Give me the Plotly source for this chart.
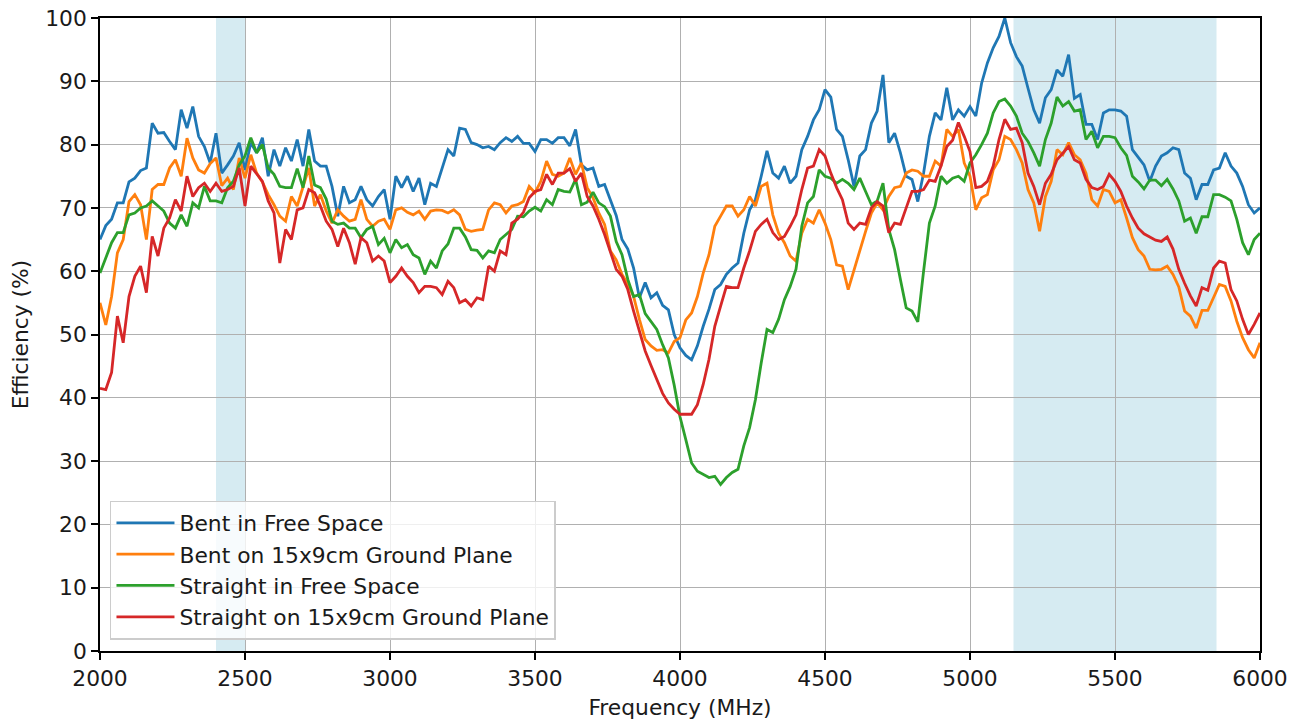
import plotly.graph_objects as go

# Sampling grid (MHz): first frequency and spacing of the readings below
freq_start = 2000
freq_step = 20

# Efficiency (%), one value every 20 MHz from 2000 to 6000 MHz
bent_free = [
    65.0, 67.2, 68.2, 70.8, 70.8, 74.1, 74.7, 75.9, 76.3, 83.4,
    81.8, 81.9, 80.5, 79.2, 85.5, 82.6, 86.0, 81.3, 79.7, 77.1,
    81.8, 75.5, 76.8, 78.2, 80.3, 76.0, 80.3, 78.7, 81.1, 75.0,
    79.2, 76.6, 79.5, 77.4, 80.8, 76.6, 82.4, 77.4, 76.6, 76.6,
    73.4, 68.7, 73.4, 70.8, 71.3, 73.4, 71.3, 70.3, 71.8, 72.9,
    68.2, 75.0, 73.2, 75.0, 72.6, 74.7, 70.5, 73.9, 73.4, 76.3,
    79.2, 78.2, 82.6, 82.4, 80.3, 80.0, 79.5, 79.7, 79.2, 80.3,
    81.1, 80.5, 81.3, 80.2, 80.2, 78.9, 80.8, 80.8, 80.2, 81.1,
    81.1, 79.8, 82.4, 76.8, 76.0, 76.3, 73.4, 73.7, 71.3, 68.8,
    65.0, 63.5, 60.5, 55.8, 58.2, 55.8, 56.6, 54.6, 53.9, 50.0,
    47.9, 46.7, 46.0, 48.2, 51.3, 54.0, 57.1, 57.9, 59.5, 60.5,
    61.3, 66.0, 69.7, 71.3, 75.0, 79.0, 75.5, 74.7, 76.6, 73.9,
    75.0, 79.2, 81.3, 83.9, 85.5, 88.7, 87.5, 82.4, 81.3, 77.6,
    73.4, 78.2, 79.2, 83.4, 85.3, 91.0, 80.3, 81.8, 78.7, 75.0,
    74.5, 71.0, 75.5, 81.3, 85.0, 83.9, 89.0, 83.9, 85.5, 84.5,
    86.0, 84.5, 89.7, 92.9, 95.3, 97.1, 100.0, 96.1, 93.9, 92.4,
    88.9, 85.5, 83.4, 87.4, 88.7, 91.8, 90.8, 94.2, 87.3, 87.9,
    83.2, 83.2, 80.8, 85.0, 85.5, 85.5, 85.3, 84.5, 79.2, 77.9,
    76.8, 74.2, 76.6, 78.2, 78.7, 79.5, 79.2, 75.5, 74.7, 71.3,
    73.7, 73.7, 76.0, 76.3, 78.7, 76.6, 75.5, 73.4, 70.5, 69.2,
    70.0,
]

bent_ground = [
    55.0, 51.5, 56.0, 62.9, 65.0, 71.0, 72.1, 70.5, 65.0, 72.9,
    73.7, 73.7, 76.3, 77.6, 75.0, 81.0, 77.9, 76.0, 75.5, 77.0,
    77.9, 73.5, 74.7, 72.9, 77.9, 74.7, 78.4, 75.5, 74.1, 72.1,
    70.5, 68.7, 67.9, 71.8, 70.3, 73.4, 76.3, 70.3, 72.1, 69.5,
    67.6, 69.7, 68.7, 67.9, 68.2, 71.3, 68.2, 67.1, 67.9, 68.2,
    66.6, 69.7, 70.0, 69.3, 68.9, 69.5, 68.2, 69.5, 69.7, 69.6,
    69.2, 69.7, 68.9, 66.6, 66.3, 66.5, 66.6, 69.7, 70.8, 70.5,
    69.2, 70.3, 70.5, 71.0, 73.4, 72.4, 74.2, 77.4, 75.3, 75.0,
    75.5, 77.9, 75.3, 77.1, 73.2, 71.6, 69.2, 67.4, 63.2, 61.8,
    59.5, 58.0, 56.0, 52.4, 49.2, 48.2, 47.5, 47.6, 47.1, 48.9,
    49.5, 52.3, 53.4, 56.0, 59.7, 62.6, 67.1, 68.7, 70.3, 70.3,
    68.7, 69.7, 71.8, 70.3, 73.4, 73.9, 68.9, 66.0, 64.5, 62.4,
    61.6, 66.0, 68.2, 67.6, 69.7, 67.6, 65.0, 61.0, 60.8, 57.1,
    60.3, 63.4, 66.3, 69.2, 70.8, 69.7, 71.8, 73.2, 73.4, 75.5,
    76.0, 75.8, 75.0, 75.0, 77.4, 76.6, 82.4, 81.3, 82.4, 77.1,
    75.0, 69.7, 71.6, 72.1, 76.0, 77.6, 81.3, 80.8, 79.2, 77.1,
    72.9, 70.8, 66.3, 71.8, 74.2, 79.2, 78.4, 80.3, 78.4, 77.6,
    75.5, 71.3, 70.3, 72.9, 72.6, 70.8, 71.3, 68.4, 65.3, 63.4,
    62.4, 60.3, 60.2, 60.3, 60.8, 59.5, 57.5, 53.7, 52.9, 51.0,
    53.8, 53.8, 56.0, 57.9, 57.6, 55.3, 52.1, 49.5, 47.6, 46.3,
    48.7,
]

straight_free = [
    59.7, 62.1, 64.5, 66.1, 66.1, 68.9, 69.2, 70.0, 70.3, 71.1,
    70.3, 69.5, 67.6, 66.8, 68.9, 67.1, 70.8, 70.0, 73.4, 71.1,
    71.1, 70.8, 73.2, 74.2, 76.8, 78.2, 81.1, 78.7, 80.0, 76.3,
    75.3, 73.4, 73.2, 73.2, 76.2, 73.2, 78.2, 73.6, 73.2, 71.4,
    67.9, 67.4, 67.6, 66.8, 66.8, 65.3, 66.6, 67.1, 64.2, 65.2,
    62.9, 65.0, 63.7, 64.2, 62.6, 62.1, 59.5, 61.6, 60.5, 63.2,
    64.3, 66.8, 66.8, 65.4, 63.4, 63.3, 62.1, 63.2, 62.9, 65.0,
    65.8, 66.6, 68.7, 68.6, 69.5, 70.1, 69.5, 71.3, 70.5, 72.9,
    72.6, 72.5, 74.5, 70.5, 70.9, 72.5, 70.8, 70.2, 68.7, 64.7,
    62.6, 58.7, 56.0, 56.3, 53.3, 52.1, 50.8, 48.4, 46.3, 42.0,
    37.0, 33.4, 29.7, 28.4, 27.9, 27.4, 27.6, 26.3, 27.4, 28.2,
    28.7, 32.4, 35.3, 39.7, 45.5, 50.8, 50.3, 52.4, 55.5, 57.6,
    60.3, 67.1, 70.8, 71.8, 76.0, 75.0, 74.7, 73.9, 74.5, 73.9,
    72.9, 74.7, 72.6, 70.5, 71.1, 73.9, 66.6, 63.4, 58.7, 54.2,
    53.7, 52.0, 60.0, 67.6, 70.3, 75.0, 73.9, 74.7, 75.0, 74.2,
    77.1, 78.4, 80.0, 81.8, 85.0, 86.8, 87.2, 86.1, 84.5, 81.8,
    80.5, 78.7, 76.6, 80.8, 83.4, 87.5, 86.1, 86.8, 85.3, 85.5,
    80.8, 82.1, 79.5, 81.3, 81.3, 81.1, 79.5, 78.3, 75.0, 74.1,
    73.0, 74.4, 74.4, 73.5, 74.5, 73.0, 71.1, 67.9, 68.4, 66.0,
    68.6, 68.6, 72.1, 72.1, 71.7, 71.1, 68.2, 64.5, 62.6, 65.0,
    66.0,
]

straight_ground = [
    41.5, 41.3, 44.0, 52.9, 48.7, 56.0, 59.2, 60.8, 56.6, 65.5,
    62.4, 66.8, 68.4, 71.3, 69.5, 75.0, 71.8, 73.2, 73.9, 72.6,
    73.9, 72.6, 72.9, 73.4, 76.3, 70.3, 76.6, 75.3, 74.2, 71.1,
    69.2, 61.3, 66.6, 65.0, 69.7, 70.0, 72.9, 72.4, 70.3, 67.9,
    66.6, 63.9, 66.8, 64.5, 61.1, 65.3, 64.5, 61.6, 62.4, 61.6,
    58.2, 59.2, 60.5, 59.2, 58.2, 56.6, 57.6, 57.6, 57.4, 56.3,
    58.4, 57.4, 55.0, 55.5, 54.5, 55.8, 55.5, 60.8, 60.0, 63.2,
    62.6, 67.6, 68.2, 69.3, 71.6, 72.6, 72.9, 75.3, 73.7, 75.5,
    75.5, 76.2, 74.2, 75.5, 71.8, 70.3, 68.2, 65.8, 63.2, 60.3,
    59.2, 57.1, 53.7, 50.5, 47.4, 45.1, 42.9, 40.7, 39.2, 38.2,
    37.4, 37.4, 37.4, 38.9, 42.1, 46.1, 51.3, 54.5, 57.6, 57.4,
    57.4, 60.5, 63.2, 66.3, 67.4, 68.2, 66.1, 65.0, 65.5, 67.1,
    68.9, 72.9, 76.3, 76.6, 79.2, 78.2, 75.5, 73.2, 71.3, 67.6,
    66.6, 67.6, 67.4, 70.0, 71.0, 70.3, 66.1, 67.6, 67.4, 70.0,
    72.6, 72.6, 72.9, 74.4, 74.2, 76.6, 79.7, 80.7, 83.5, 81.3,
    78.9, 73.2, 73.4, 74.2, 76.6, 80.8, 84.0, 82.4, 82.6, 80.3,
    75.5, 73.4, 70.5, 73.9, 75.3, 77.6, 78.7, 79.7, 77.6, 77.1,
    74.5, 73.2, 72.9, 73.4, 75.3, 74.2, 72.6, 70.3, 68.4, 66.8,
    65.9, 65.4, 64.9, 64.7, 65.4, 63.5, 60.3, 58.1, 56.1, 54.5,
    57.4, 57.0, 60.5, 61.6, 61.3, 57.1, 55.3, 52.4, 50.0, 51.6,
    53.4,
]

series_names = [
    "Bent in Free Space",
    "Bent on 15x9cm Ground Plane",
    "Straight in Free Space",
    "Straight on 15x9cm Ground Plane",
]
series_values = [bent_free, bent_ground, straight_free, straight_ground]
series_colors = ["#1f77b4", "#ff7f0e", "#2ca02c", "#d62728"]

# Highlighted frequency bands (MHz)
band_starts = [2400, 5150]
band_ends = [2500, 5850]

x_ticks = [2000, 2500, 3000, 3500, 4000, 4500, 5000, 5500, 6000]
y_ticks = [0, 10, 20, 30, 40, 50, 60, 70, 80, 90, 100]

n_points = len(bent_free)
assert all(len(v) == n_points for v in series_values), [len(v) for v in series_values]
freq = [freq_start + freq_step * i for i in range(n_points)]

FONT = "DejaVu Sans"
FS = 21.8
TXT = "#1a1a1a"
fig = go.Figure()
for i, (name, vals, col) in enumerate(zip(series_names, series_values, series_colors)):
    fig.add_trace(go.Scatter(
        x=freq, y=vals, mode="lines", name=name, legendgroup=f"g{i}",
        line=dict(color=col, width=2.8),
    ))

for b0, b1 in zip(band_starts, band_ends):
    fig.add_shape(type="rect", xref="x", yref="paper", x0=b0, x1=b1, y0=0, y1=1,
                  fillcolor="rgba(173,216,230,0.5)", line=dict(width=0), layer="below")

axis_common = dict(
    showline=True, mirror=True, linecolor="black", linewidth=1.6,
    ticks="outside", ticklen=7, tickwidth=1.6, tickcolor="black",
    showgrid=True, gridcolor="#b0b0b0", gridwidth=1.4, zeroline=False,
    tickfont=dict(family=FONT, size=FS, color=TXT),
    ticklabeloverflow="allow",
)

fig.update_xaxes(range=[2000, 6000], tickvals=x_ticks,
                 title=dict(text="Frequency (MHz)", font=dict(family=FONT, size=FS, color=TXT), standoff=10),
                 **axis_common)
fig.update_yaxes(range=[0, 100], tickvals=y_ticks,
                 title=dict(text="Efficiency (%)", font=dict(family=FONT, size=FS, color=TXT), standoff=24),
                 **axis_common)

# The page adds an 8px body margin, so the figure is sized to fit inside the window
fig.update_layout(
    width=1294, height=716,
    margin=dict(l=92, r=42, t=10, b=73, autoexpand=False),
    paper_bgcolor="white", plot_bgcolor="white",
    font=dict(family=FONT, size=FS, color=TXT),
    showlegend=True,
    legend=dict(
        x=0.0086, y=0.018, xanchor="left", yanchor="bottom",
        bgcolor="rgba(255,255,255,0.8)", bordercolor="#cccccc", borderwidth=1.5,
        font=dict(family=FONT, size=FS, color=TXT),
        itemwidth=58, tracegroupgap=1, traceorder="normal",
    ),
)

fig.write_html("out.html")
